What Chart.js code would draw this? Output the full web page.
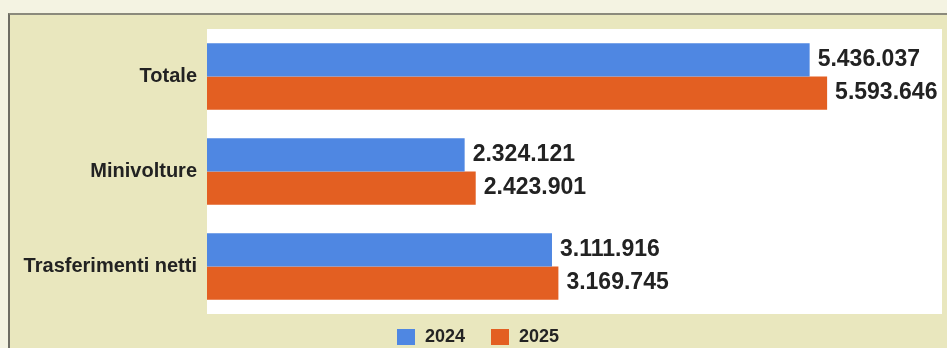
<!DOCTYPE html>
<html lang="it">
<head>
<meta charset="utf-8">
<title>Trasferimenti di proprietà 2024-2025</title>
<script src="https://cdn.jsdelivr.net/npm/chart.js@4.4.1/dist/chart.umd.min.js"></script>
<style>
    html, body { margin: 0; padding: 0; }
    body {
        width: 947px;
        height: 348px;
        position: relative;
        overflow: hidden;
        background: #f4f3e2;
        font-family: "Liberation Sans", Arial, sans-serif;
    }
    #panel {
        position: absolute;
        left: 8px;
        top: 13px;
        right: 0;
        bottom: 0;
        background: #e9e7be;
        border-top: 2px solid #8b8a7c;
        border-left: 2px solid #6e6d64;
    }
    #wrap {
        position: absolute;
        left: 0;
        top: 0;
        width: 947px;
        height: 348px;
    }
    #legend {
        position: absolute;
        left: 397px;
        top: 326px;
        display: flex;
        align-items: center;
        font-weight: bold;
        font-size: 18px;
        color: #232323;
    }
    .leg-item { display: flex; align-items: center; margin-right: 26px; }
    .leg-box { width: 18px; height: 16px; margin-right: 10px; }
</style>
</head>
<body>
<div id="panel"></div>
<div id="wrap"><canvas id="chart" width="947" height="348"></canvas></div>
<div id="legend"></div>

<script>
// Dati
const categorie = ['Totale', 'Minivolture', 'Trasferimenti netti'];
const anni = ['2024', '2025'];
const valori2024 = [5436037, 2324121, 3111916];
const valori2025 = [5593646, 2423901, 3169745];
const colori = ['#4f87e2', '#e35f22'];

// Formato italiano: 5.436.037
function formatNum(v) {
    return String(v).replace(/\B(?=(\d{3})+(?!\d))/g, '.');
}

// Sfondo bianco dell'area del grafico
const whiteArea = {
    id: 'whiteArea',
    beforeDraw(chart) {
        const a = chart.chartArea;
        const ctx = chart.ctx;
        ctx.save();
        ctx.fillStyle = '#ffffff';
        ctx.fillRect(a.left, a.top, a.right - a.left, a.bottom - a.top);
        ctx.restore();
    }
};

// Etichette dei valori a destra delle barre
const valueLabels = {
    id: 'valueLabels',
    afterDatasetsDraw(chart) {
        const ctx = chart.ctx;
        ctx.save();
        ctx.font = 'bold 23px "Liberation Sans", Arial, sans-serif';
        ctx.fillStyle = '#222222';
        ctx.textAlign = 'left';
        ctx.textBaseline = 'middle';
        chart.data.datasets.forEach((ds, i) => {
            chart.getDatasetMeta(i).data.forEach((bar, j) => {
                ctx.fillText(formatNum(ds.data[j]), bar.x + 8, bar.y);
            });
        });
        ctx.restore();
    }
};

const ctx = document.getElementById('chart').getContext('2d');
new Chart(ctx, {
    type: 'bar',
    data: {
        labels: categorie,
        datasets: [
            { label: anni[0], data: valori2024, backgroundColor: colori[0] },
            { label: anni[1], data: valori2025, backgroundColor: colori[1] }
        ]
    },
    options: {
        indexAxis: 'y',
        responsive: false,
        animation: false,
        datasets: {
            bar: { barPercentage: 1, categoryPercentage: 0.7, borderWidth: 0 }
        },
        layout: { padding: { top: 29, right: 5, bottom: 34, left: 0 } },
        plugins: {
            legend: { display: false },
            tooltip: { enabled: false }
        },
        scales: {
            x: { display: false, min: 0, max: 6630000 },
            y: {
                grid: { display: false },
                border: { display: false },
                ticks: {
                    padding: 2,
                    color: '#222222',
                    font: { family: '"Liberation Sans", Arial, sans-serif', size: 20, weight: 'bold' }
                },
                afterFit(scale) { scale.width = 207; }
            }
        }
    },
    plugins: [whiteArea, valueLabels]
});

// Legenda
const legend = document.getElementById('legend');
anni.forEach((a, i) => {
    const item = document.createElement('div');
    item.className = 'leg-item';
    item.innerHTML = `<span class="leg-box" style="background:${colori[i]}"></span><span>${a}</span>`;
    legend.appendChild(item);
});
</script>
</body>
</html>
